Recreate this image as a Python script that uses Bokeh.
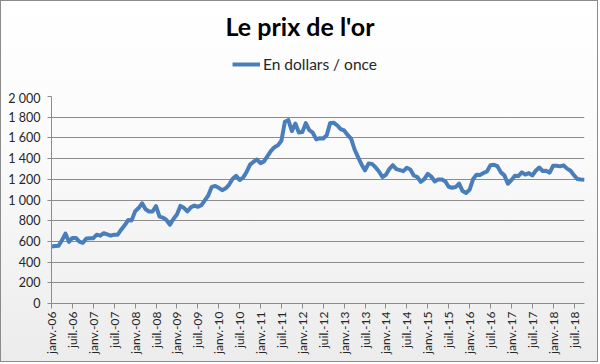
from bokeh.plotting import figure
from bokeh.models import FixedTicker, Legend, LegendItem, ColumnDataSource, Label
from bokeh.layouts import column
from bokeh.embed import file_html
from bokeh.resources import INLINE
from math import pi

# ---- data: monthly gold price (USD / ounce), Jan 2006 .. Oct 2018 ----
prices = [
    550, 555, 557, 611, 675, 596, 634, 633, 598, 586, 628, 630,          # 2006
    631, 665, 655, 679, 667, 655, 665, 665, 713, 755, 806, 803,          # 2007
    890, 922, 968, 910, 889, 889, 940, 839, 830, 807, 761, 816,          # 2008
    859, 943, 924, 890, 929, 946, 934, 949, 997, 1043, 1127, 1135,       # 2009
    1118, 1095, 1113, 1149, 1205, 1233, 1193, 1216, 1271, 1342, 1370, 1391,  # 2010
    1356, 1373, 1424, 1474, 1510, 1529, 1573, 1756, 1772, 1665, 1739, 1652,  # 2011
    1656, 1743, 1674, 1650, 1586, 1597, 1594, 1626, 1745, 1747, 1722, 1685,  # 2012
    1672, 1628, 1593, 1488, 1414, 1343, 1286, 1352, 1349, 1317, 1276, 1222,  # 2013
    1244, 1301, 1336, 1298, 1289, 1279, 1311, 1295, 1237, 1222, 1175, 1201,  # 2014
    1252, 1227, 1179, 1199, 1199, 1182, 1128, 1118, 1125, 1159, 1086, 1068,  # 2015
    1098, 1200, 1245, 1242, 1261, 1276, 1337, 1340, 1327, 1267, 1238, 1157,  # 2016
    1192, 1234, 1231, 1267, 1246, 1260, 1237, 1283, 1314, 1280, 1282, 1264,  # 2017
    1331, 1331, 1325, 1335, 1303, 1282, 1238, 1202, 1198, 1195,              # 2018
]
month_index = list(range(len(prices)))

tick_labels = [
    "janv.-06", "juil.-06", "janv.-07", "juil.-07", "janv.-08", "juil.-08",
    "janv.-09", "juil.-09", "janv.-10", "juil.-10", "janv.-11", "juil.-11",
    "janv.-12", "juil.-12", "janv.-13", "juil.-13", "janv.-14", "juil.-14",
    "janv.-15", "juil.-15", "janv.-16", "juil.-16", "janv.-17", "juil.-17",
    "janv.-18", "juil.-18",
]
tick_step = 6
y_ticks = [0, 200, 400, 600, 800, 1000, 1200, 1400, 1600, 1800, 2000]

title_text = "Le prix de l'or"
series_name = "En dollars / once"

FONT = "Lato"
LINE_COLOR = "#4A7EBB"
GRID_COLOR = "#8C8C8C"
TEXT_COLOR = "#262626"
W = 598
TOP_H = 90
MAIN_H = 272

src = ColumnDataSource(dict(x=month_index, y=prices))

# ---------- header (title + legend) ----------
head = figure(width=W, height=TOP_H, output_backend="svg", toolbar_location=None,
              title=None,
              x_range=(0, len(prices) - 1), y_range=(-3000, -2000),
              x_axis_location=None, y_axis_location=None,
              min_border_left=0, min_border_right=0, min_border_top=0, min_border_bottom=0)
head.grid.visible = False
head.outline_line_color = None
head.border_fill_alpha = 0
head.background_fill_alpha = 0

# title, in screen pixels from the header frame's bottom-left corner
head.add_layout(Label(x=248.5, y=65, x_units="screen", y_units="screen", text=title_text,
                      text_font=FONT, text_font_style="bold", text_font_size="25px",
                      text_color="#000000", text_align="center", text_baseline="alphabetic"))

# legend key: the series drawn outside the header's visible range, only its key shows
key = head.line("x", "y", source=src, line_color=LINE_COLOR, line_width=4)
legend = Legend(items=[LegendItem(label=series_name, renderers=[key])],
                location=(181, 17), orientation="horizontal",
                glyph_width=28, glyph_height=14, label_height=14,
                label_standoff=3, padding=0, margin=0, spacing=0,
                label_text_font=FONT, label_text_font_size="15.5px", label_text_color=TEXT_COLOR,
                border_line_color=None, background_fill_alpha=0)
head.add_layout(legend, "center")

# ---------- main chart ----------
p = figure(width=W, height=MAIN_H, output_backend="svg", toolbar_location=None,
           x_range=(0, len(prices) - 1), y_range=(0, 2000),
           min_border_left=51, min_border_right=14, min_border_top=6, min_border_bottom=59)
p.border_fill_alpha = 0
p.background_fill_alpha = 0
p.outline_line_color = None

p.line("x", "y", source=src, line_color=LINE_COLOR, line_width=4, line_join="round")

x_tick_pos = [i * tick_step for i in range(len(tick_labels))]
p.xaxis.ticker = FixedTicker(ticks=x_tick_pos)
p.xaxis.major_label_overrides = {t: lab for t, lab in zip(x_tick_pos, tick_labels)}
p.xaxis.major_label_orientation = pi / 2
p.xaxis.minor_tick_line_color = None
p.xaxis.major_tick_in = 0
p.xaxis.major_tick_out = 5
p.xaxis.major_label_standoff = 3

p.yaxis.ticker = FixedTicker(ticks=y_ticks)
p.yaxis.major_label_overrides = {v: f"{v:,}".replace(",", " ") for v in y_ticks}
p.yaxis.minor_tick_line_color = None
p.yaxis.major_tick_in = 0
p.yaxis.major_tick_out = 4
p.yaxis.major_label_standoff = 7

for ax in (p.xaxis, p.yaxis):
    ax.axis_line_color = GRID_COLOR
    ax.major_tick_line_color = GRID_COLOR
    ax.major_label_text_font = FONT
    ax.major_label_text_color = TEXT_COLOR
p.xaxis.major_label_text_font_size = "12px"
p.yaxis.major_label_text_font_size = "12.5px"

p.xgrid.grid_line_color = None
p.ygrid.ticker = FixedTicker(ticks=y_ticks)
p.ygrid.grid_line_color = GRID_COLOR
p.ygrid.grid_line_width = 1

page = column(head, p, spacing=0)
page.styles = {"background-image": "linear-gradient(to bottom, #ffffff 0%, #fbfbfb 40%, #ececec 100%)",
               "box-shadow": "inset 0 0 0 1px #8c8c8c"}

open("out.html", "w").write(file_html(page, INLINE))
